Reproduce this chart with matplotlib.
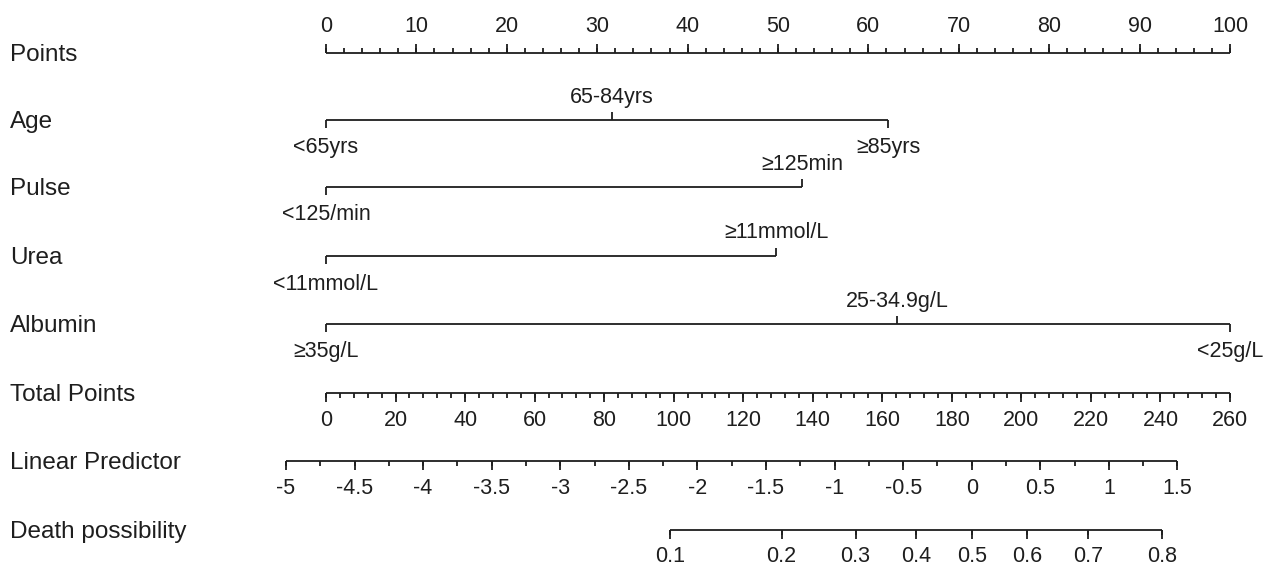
import matplotlib
matplotlib.use("Agg")
import matplotlib.pyplot as plt
import numpy as np

plt.rcParams['font.family'] = ['Liberation Sans', 'DejaVu Sans']

# nomogram data (points scale 0-100)
row_names = ["Points", "Age", "Pulse", "Urea", "Albumin",
             "Total Points", "Linear Predictor", "Death possibility"]

age_levels = ["<65yrs", "65-84yrs", "≥85yrs"]
age_points = [0, 31.6, 62.2]
age_above = [False, True, False]

pulse_levels = ["<125/min", "≥125min"]
pulse_points = [0, 52.7]
pulse_above = [False, True]

urea_levels = ["<11mmol/L", "≥11mmol/L"]
urea_points = [0, 49.8]
urea_above = [False, True]

albumin_levels = ["≥35g/L", "25-34.9g/L", "<25g/L"]
albumin_points = [0, 63.2, 100]
albumin_above = [False, True, False]

points_major = np.arange(0, 101, 10)
points_minor = np.arange(0, 101, 2)
total_major = np.arange(0, 261, 20)
total_minor = np.arange(0, 261, 4)
lp_major = np.arange(-5, 1.51, 0.5)
lp_minor = np.arange(-5, 1.51, 0.25)
lp_labels = ["-5", "-4.5", "-4", "-3.5", "-3", "-2.5", "-2", "-1.5", "-1",
             "-0.5", "0", "0.5", "1", "1.5"]
prob_ticks = [0.1, 0.2, 0.3, 0.4, 0.5, 0.6, 0.7, 0.8]

# linear predictor = lp0 + lp_slope * total points
lp0 = -4.708
lp_slope = 0.02535
max_total = 260

def tp_to_x(tp):
    return np.asarray(tp) * 100.0 / max_total

def lp_to_x(lp):
    return tp_to_x((np.asarray(lp) - lp0) / lp_slope)

def prob_to_x(p):
    p = np.asarray(p)
    return lp_to_x(np.log(p / (1 - p)))

# figure: x in points units, y in pixel rows
fig = plt.figure(figsize=(12.64, 5.67), dpi=100)
ax = fig.add_axes([0, 0, 1, 1])
px = 9.04
ax.set_xlim(-326 / px, (1264 - 326) / px)
ax.set_ylim(567, 0)
ax.axis("off")

ink = "#1e1e1e"
lw = 1.3
name_fs = 17.5
tick_fs = 15.5
row_y = [53, 120, 187, 256, 324, 393, 461, 530]

for name, y in zip(row_names, row_y):
    ax.text(-316 / px, y + 2, name, fontsize=name_fs, color=ink,
            ha="left", va="center")

def scale_axis(y, major_x, minor_x, labels, up):
    sgn = -1 if up else 1
    ax.hlines(y, min(major_x), max(major_x), color=ink, lw=lw)
    ax.vlines(minor_x, y, y + sgn * 5, color=ink, lw=lw)
    ax.vlines(major_x, y, y + sgn * 9, color=ink, lw=lw)
    for xv, lab in zip(major_x, labels):
        ax.text(xv, y + sgn * 27, lab, fontsize=tick_fs, color=ink,
                ha="center", va="center")

def var_axis(y, pts, levels, above):
    ax.hlines(y, min(pts), max(pts), color=ink, lw=lw)
    for xv, lab, up in zip(pts, levels, above):
        sgn = -1 if up else 1
        ax.vlines(xv, y, y + sgn * 8, color=ink, lw=lw)
        ax.text(xv, y + (-23 if up else 28), lab, fontsize=tick_fs,
                color=ink, ha="center", va="center")

# Points
scale_axis(row_y[0], points_major, points_minor,
           [str(v) for v in points_major], up=True)

var_axis(row_y[1], age_points, age_levels, age_above)
var_axis(row_y[2], pulse_points, pulse_levels, pulse_above)
var_axis(row_y[3], urea_points, urea_levels, urea_above)
var_axis(row_y[4], albumin_points, albumin_levels, albumin_above)

# Total Points
scale_axis(row_y[5], tp_to_x(total_major), tp_to_x(total_minor),
           [str(v) for v in total_major], up=False)

# Linear Predictor
scale_axis(row_y[6], lp_to_x(lp_major), lp_to_x(lp_minor), lp_labels, up=False)

# Death possibility
px_prob = prob_to_x(prob_ticks)
scale_axis(row_y[7], px_prob, px_prob, [str(p) for p in prob_ticks], up=False)

fig.savefig("out.png", dpi=100, facecolor="white")
